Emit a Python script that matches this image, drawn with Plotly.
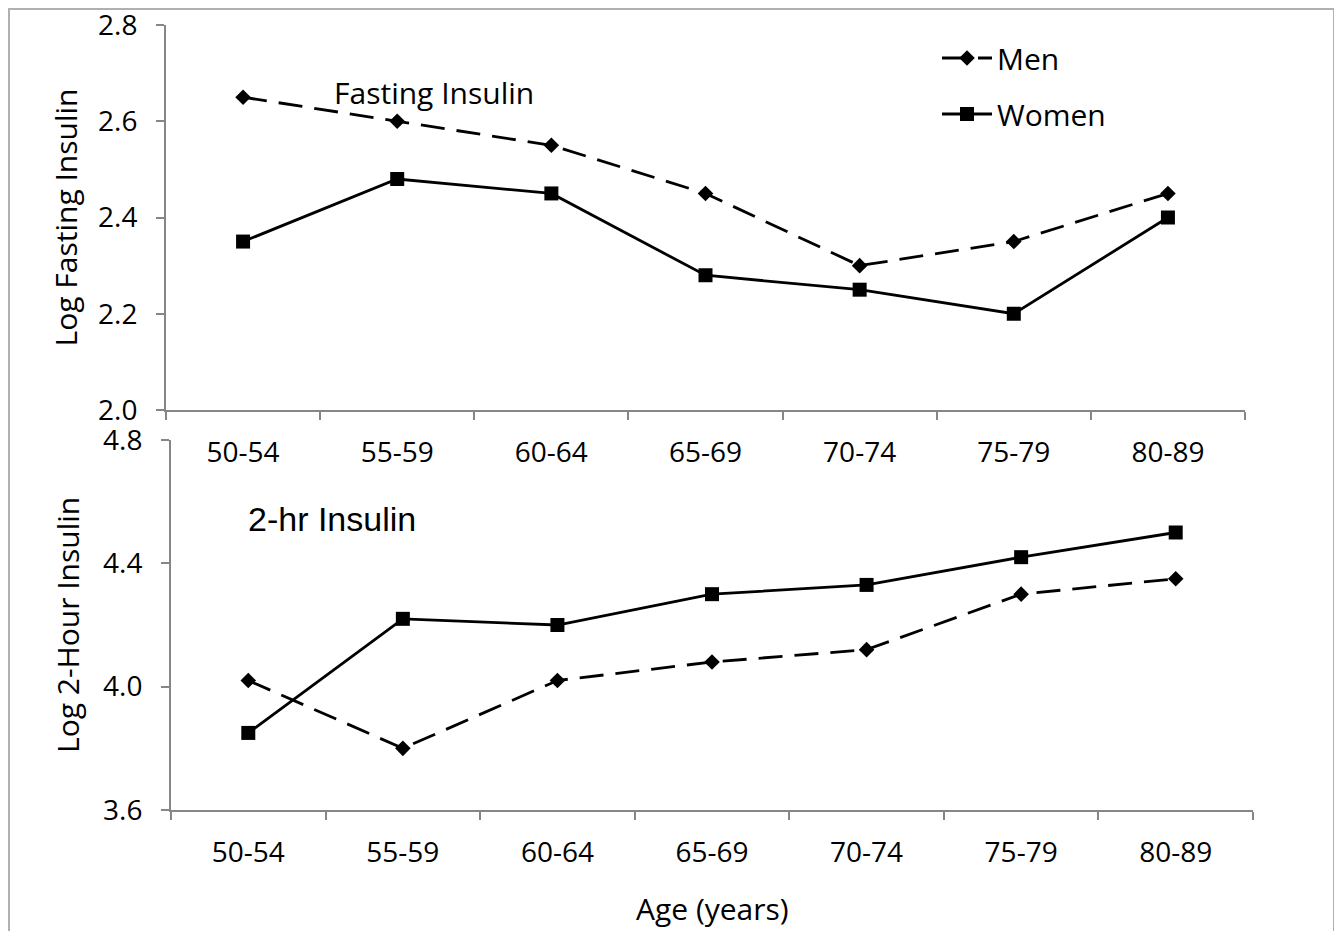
import plotly.graph_objects as go

categories = ["50-54", "55-59", "60-64", "65-69", "70-74", "75-79", "80-89"]
fasting_men = [2.65, 2.60, 2.55, 2.45, 2.30, 2.35, 2.45]
fasting_women = [2.35, 2.48, 2.45, 2.28, 2.25, 2.20, 2.40]
twohr_men = [4.02, 3.80, 4.02, 4.08, 4.12, 4.30, 4.35]
twohr_women = [3.85, 4.22, 4.20, 4.30, 4.33, 4.42, 4.50]
fasting_ticks = [2.0, 2.2, 2.4, 2.6, 2.8]
twohr_ticks = [3.6, 4.0, 4.4, 4.8]

W, H = 1342, 931
OFF = 8  # page body offset
FONT = "Open Sans"
AX = "#868686"

def px_x(v):
    return (v - OFF) / W

def px_y(v):
    return 1 - (v - OFF) / H

fig = go.Figure()

men_line = dict(color="black", width=2.8, dash="24px,12px")
women_line = dict(color="black", width=2.8)
men_marker = dict(symbol="diamond", size=12, color="black")
women_marker = dict(symbol="square", size=14, color="black")

fig.add_trace(go.Scatter(x=categories, y=fasting_men, name="Men", mode="lines+markers",
                         line=men_line, marker=men_marker, xaxis="x", yaxis="y",
                         legendgroup="men"))
fig.add_trace(go.Scatter(x=categories, y=fasting_women, name="Women", mode="lines+markers",
                         line=women_line, marker=women_marker, xaxis="x", yaxis="y",
                         legendgroup="women"))
fig.add_trace(go.Scatter(x=categories, y=twohr_men, name="Men", mode="lines+markers",
                         line=men_line, marker=men_marker, xaxis="x2", yaxis="y2",
                         showlegend=False))
fig.add_trace(go.Scatter(x=categories, y=twohr_women, name="Women", mode="lines+markers",
                         line=women_line, marker=women_marker, xaxis="x2", yaxis="y2",
                         showlegend=False))

common_x = dict(type="category", categoryorder="array", categoryarray=categories,
                range=[-0.5, 6.5], showgrid=False, zeroline=False, showline=True,
                linecolor=AX, linewidth=2, ticks="outside", tickson="boundaries",
                ticklen=8, tickwidth=2, tickcolor=AX, ticklabelstandoff=16,
                automargin=False, ticklabeloverflow="allow",
                tickfont=dict(family=FONT, size=28, color="black"))
common_y = dict(showgrid=False, zeroline=False, showline=True, linecolor=AX, linewidth=2,
                ticks="outside", ticklen=8, tickwidth=2, tickcolor=AX,
                ticklabelstandoff=13, tickformat=".1f", automargin=False,
                ticklabeloverflow="allow",
                tickfont=dict(family=FONT, size=28, color="black"))

fig.update_layout(
    width=W, height=H,
    margin=dict(l=0, r=0, t=0, b=0, autoexpand=False),
    paper_bgcolor="white", plot_bgcolor="rgba(0,0,0,0)",
    xaxis=dict(common_x, domain=[px_x(166), px_x(1245)], anchor="y"),
    yaxis=dict(common_y, domain=[px_y(410), px_y(25)], anchor="x",
               range=[2.0, 2.8], tickvals=fasting_ticks),
    xaxis2=dict(common_x, domain=[px_x(171), px_x(1253)], anchor="y2"),
    yaxis2=dict(common_y, domain=[px_y(810), px_y(440)], anchor="x2",
                range=[3.6, 4.8], tickvals=twohr_ticks),
    legend=dict(x=px_x(937), y=px_y(32), xanchor="left", yanchor="top",
                font=dict(family=FONT, size=30, color="black"),
                bgcolor="rgba(0,0,0,0)", tracegroupgap=14, itemwidth=50),
    showlegend=True,
)

def label(text, x, y, size=30, family=FONT, angle=0):
    fig.add_annotation(text=text, textangle=angle, x=px_x(x), y=px_y(y),
                       xref="paper", yref="paper", xanchor="center", yanchor="middle",
                       showarrow=False, font=dict(family=family, size=size, color="black"))

label("Log Fasting Insulin", 65, 217.5, angle=-90)
label("Log 2-Hour Insulin", 67, 625, angle=-90)
label("Age (years)", 712, 908)
label("Fasting Insulin", 434, 92)
label("2-hr Insulin", 332, 519, size=34, family="Liberation Sans")

fig.add_shape(type="rect", xref="paper", yref="paper",
              x0=px_x(9), x1=px_x(1334), y0=px_y(945), y1=px_y(9),
              line=dict(color="#b0b0b0", width=2), layer="below")

fig.write_html("out.html")
